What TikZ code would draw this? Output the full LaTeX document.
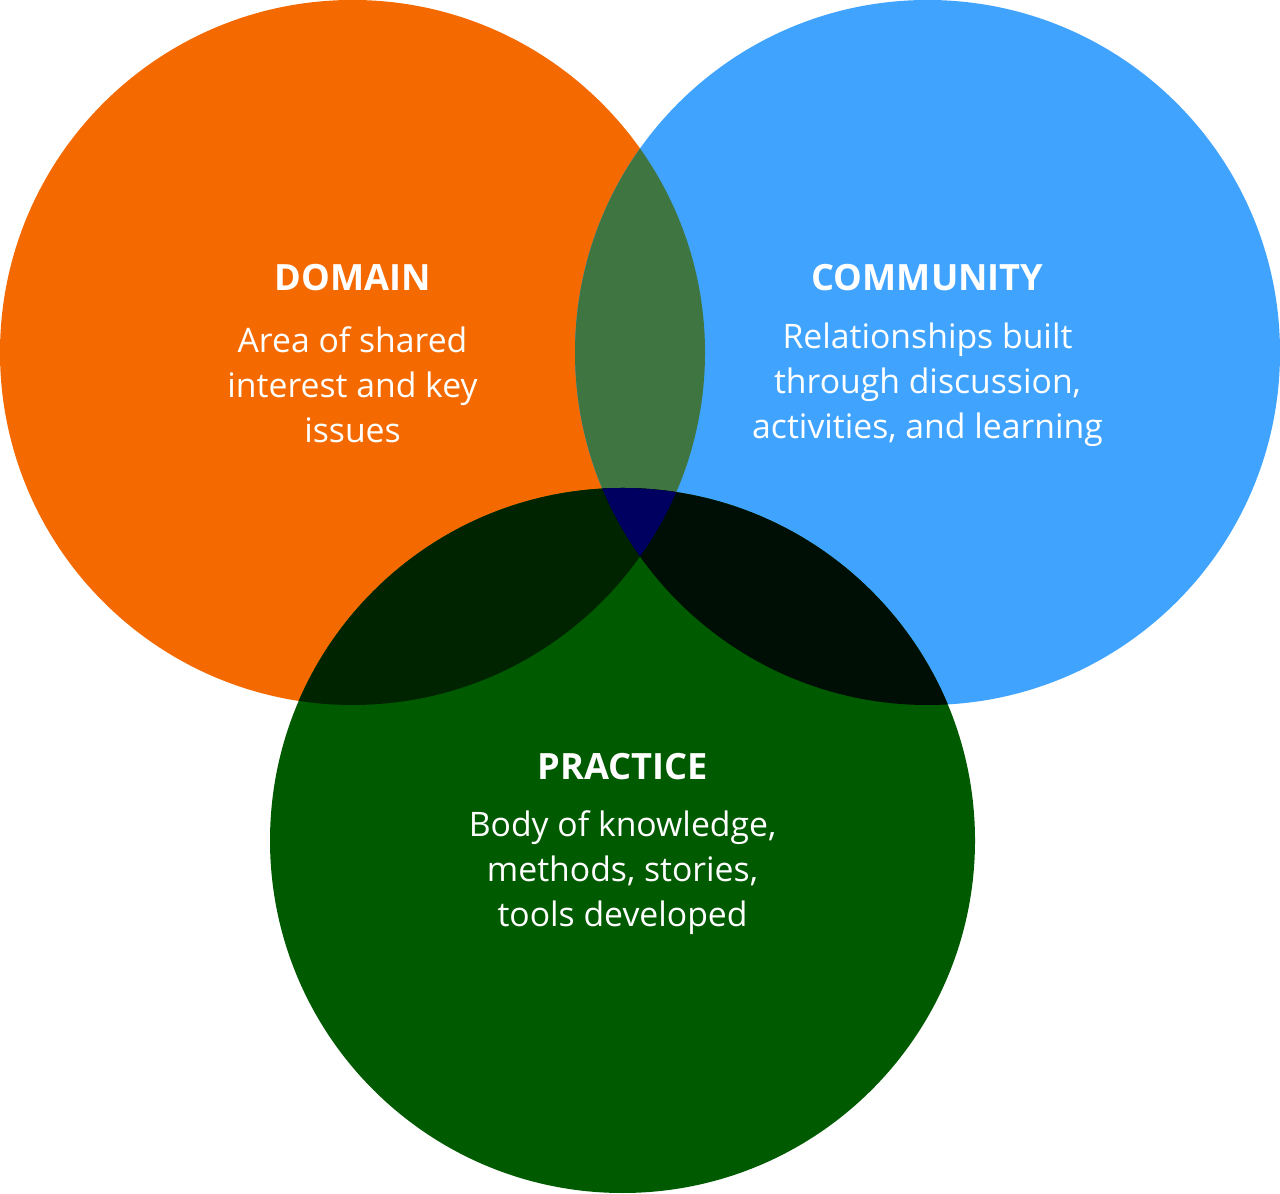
\documentclass[tikz,border=0pt]{standalone}
\usepackage{fontspec}
\setmainfont{Open Sans}
\usepackage{xcolor}
\definecolor{vnorange}{RGB}{244,106,0}
\definecolor{vnblue}{RGB}{64,164,255}
\definecolor{vngreen}{RGB}{0,90,0}
\definecolor{vnorangeblue}{RGB}{63,117,64}
\definecolor{vnorangegreen}{RGB}{0,36,0}
\definecolor{vnbluegreen}{RGB}{0,15,5}
\definecolor{vncentre}{RGB}{0,0,96}
\usepackage{tikz}
\usetikzlibrary{positioning}

\tikzset{
  headtext/.style={font=\fontsize{10.3}{12}\selectfont\bfseries, white, align=center},
  bodytext/.style={font=\fontsize{9.6}{12.8}\selectfont, white, align=center}
}

\begin{document}
\begin{tikzpicture}
  \useasboundingbox (0,0) rectangle (12.8,11.93);
  \coordinate (domainC) at (3.525,8.405);
  \coordinate (communityC) at (9.275,8.405);
  \coordinate (practiceC) at (6.225,3.525);
  \def\vnr{3.525}

  % Circles
  \fill[vnorange] (domainC) circle (\vnr);
  \fill[vnblue] (communityC) circle (\vnr);
  \fill[vngreen] (practiceC) circle (\vnr);

  % Overlaps
  \begin{scope}
    \clip (domainC) circle (\vnr);
    \fill[vnorangeblue] (communityC) circle (\vnr);
    \fill[vnorangegreen] (practiceC) circle (\vnr);
  \end{scope}
  \begin{scope}
    \clip (communityC) circle (\vnr);
    \fill[vnbluegreen] (practiceC) circle (\vnr);
  \end{scope}
  \begin{scope}
    \clip (domainC) circle (\vnr);
    \clip (communityC) circle (\vnr);
    \fill[vncentre] (practiceC) circle (\vnr);
  \end{scope}

  % Domain
  \node[headtext] (domainhead) at (3.525,9.15) {DOMAIN};
  \node[bodytext] (domainbody) at (3.525,8.08) {Area of shared\\interest and key\\issues};

  % Community
  \node[headtext] (communityhead) at (9.275,9.15) {COMMUNITY};
  \node[bodytext] (communitybody) at (9.275,8.08) {Relationships built\\through discussion,\\activities, and learning};

  % Practice
  \node[headtext] (practicehead) at (6.225,4.26) {PRACTICE};
  \node[bodytext] (practicebody) at (6.225,3.20) {Body of knowledge,\\methods, stories,\\tools developed};
\end{tikzpicture}
\end{document}
